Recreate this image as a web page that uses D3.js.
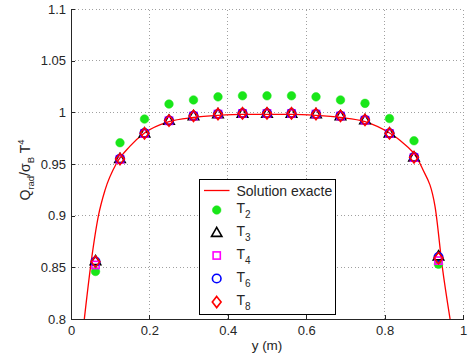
<!DOCTYPE html>
<html>
<head>
<meta charset="utf-8">
<script src="https://cdn.jsdelivr.net/npm/d3@7"></script>
<style>
  html, body { margin: 0; padding: 0; background: #fff; }
  svg { display: block; }
  text { font-family: "Liberation Sans", Arial, sans-serif; fill: #262626; }
</style>
</head>
<body>
<svg id="chart" width="469" height="358"></svg>
<script>
// ---- data ----
const xTicks = [0, 0.2, 0.4, 0.6, 0.8, 1];
const yTicks = [0.8, 0.85, 0.9, 0.95, 1, 1.05, 1.1];
const xTickLabels = ["0", "0.2", "0.4", "0.6", "0.8", "1"];
const yTickLabels = ["0.8", "0.85", "0.9", "0.95", "1", "1.05", "1.1"];

const curveX = [0.034, 0.05, 0.07, 0.087, 0.1165, 0.15, 0.1875, 0.25, 0.3125, 0.375, 0.4375, 0.5,
                0.5625, 0.625, 0.6875, 0.75, 0.8125, 0.839, 0.8946, 0.9286, 0.947, 0.967];
const curveY = [0.80, 0.851, 0.90, 0.925, 0.951, 0.967, 0.980, 0.991, 0.995, 0.997, 0.998, 0.998,
                0.998, 0.997, 0.995, 0.991, 0.980, 0.973, 0.947, 0.909, 0.851, 0.80];

const pointX = [0.0625, 0.125, 0.1875, 0.25, 0.3125, 0.375, 0.4375, 0.5,
                0.5625, 0.625, 0.6875, 0.75, 0.8125, 0.875, 0.9375];
const T2 = [0.846, 0.9706, 0.9935, 1.008, 1.012, 1.015, 1.016, 1.016, 1.016, 1.015, 1.012, 1.0087, 0.994, 0.9725, 0.853];
const T3 = [0.8564, 0.9552, 0.9800, 0.9922, 0.9967, 0.9986, 0.9991, 0.9991, 0.9991, 0.9986, 0.9967, 0.9927, 0.9800, 0.9568, 0.861];
const T4 = [0.8523, 0.9545, 0.9795, 0.9918, 0.9964, 0.9983, 0.9989, 0.9989, 0.9989, 0.9983, 0.9964, 0.9924, 0.9795, 0.9562, 0.8565];
const T6 = [0.8555, 0.9550, 0.9798, 0.9920, 0.9965, 0.9984, 0.9990, 0.9990, 0.9990, 0.9984, 0.9965, 0.9926, 0.9797, 0.9566, 0.860];
const T8 = [0.8555, 0.9548, 0.9797, 0.9920, 0.9965, 0.9984, 0.9990, 0.9990, 0.9990, 0.9984, 0.9965, 0.9926, 0.9797, 0.9565, 0.859];

const seriesNames = ["T2", "T3", "T4", "T6", "T8"];
const seriesSub = ["2", "3", "4", "6", "8"];

// ---- layout ----
const svg = d3.select("#chart");
const x = d3.scaleLinear().domain([0, 1]).range([71, 463]);
const y = d3.scaleLinear().domain([0.8, 1.1]).range([319, 9]);
const axisColor = "#262626";
const mw = 1.6;

// grid
const grid = svg.append("g");
grid.selectAll("line.gx").data(xTicks.filter(d => d > 0)).enter().append("line")
  .attr("x1", d => x(d)).attr("x2", d => x(d)).attr("y1", y(0.8)).attr("y2", y(1.1))
  .attr("stroke", "#a0a0a0").attr("stroke-width", 1).attr("stroke-dasharray", "1,2.5")
  .attr("shape-rendering", "crispEdges");
grid.selectAll("line.gy").data(yTicks.filter(d => d > 0.8)).enter().append("line")
  .attr("x1", x(0)).attr("x2", x(1)).attr("y1", d => y(d)).attr("y2", d => y(d))
  .attr("stroke", "#a0a0a0").attr("stroke-width", 1).attr("stroke-dasharray", "1,2.5")
  .attr("shape-rendering", "crispEdges");

// exact solution
svg.append("clipPath").attr("id", "clip").append("rect")
  .attr("x", x(0)).attr("y", y(1.1)).attr("width", x(1) - x(0)).attr("height", y(0.8) - y(1.1));
const curve = curveX.map((v, i) => [v, curveY[i]]);
svg.append("path").datum(curve)
  .attr("clip-path", "url(#clip)")
  .attr("d", d3.line().x(d => x(d[0])).y(d => y(d[1])).curve(d3.curveMonotoneX))
  .attr("fill", "none").attr("stroke", "#ff0000").attr("stroke-width", 1.3);

// markers
function drawMarker(g, type, cx, cy) {
  if (type === "T2") {
    g.append("circle").attr("cx", cx).attr("cy", cy).attr("r", 4.3).attr("fill", "#19e619").attr("stroke", "#19e619").attr("stroke-width", 0.5);
  } else if (type === "T3") {
    const s = 5.2;
    g.append("path").attr("d", `M${cx},${cy - s}L${cx + s},${cy + s * 0.75}L${cx - s},${cy + s * 0.75}Z`)
      .attr("fill", "none").attr("stroke", "#000").attr("stroke-width", mw);
  } else if (type === "T4") {
    const s = 3.6;
    g.append("rect").attr("x", cx - s).attr("y", cy - s).attr("width", 2 * s).attr("height", 2 * s)
      .attr("fill", "none").attr("stroke", "#ff00ff").attr("stroke-width", mw);
  } else if (type === "T6") {
    g.append("circle").attr("cx", cx).attr("cy", cy).attr("r", 4.3).attr("fill", "none").attr("stroke", "#0000ff").attr("stroke-width", mw);
  } else if (type === "T8") {
    const w = 4.4, h = 5.6;
    g.append("path").attr("d", `M${cx},${cy - h}L${cx + w},${cy}L${cx},${cy + h}L${cx - w},${cy}Z`)
      .attr("fill", "none").attr("stroke", "#ff0000").attr("stroke-width", mw);
  }
}
const allSeries = [T2, T3, T4, T6, T8];
allSeries.forEach((vals, si) => {
  const g = svg.append("g");
  vals.forEach((v, i) => drawMarker(g, seriesNames[si], x(pointX[i]), y(v)));
});

// axes
const xAxis = d3.axisBottom(x).tickValues(xTicks).tickFormat((d, i) => xTickLabels[i])
  .tickSizeInner(-4).tickSizeOuter(0).tickPadding(7);
const yAxis = d3.axisLeft(y).tickValues(yTicks).tickFormat((d, i) => yTickLabels[i])
  .tickSizeInner(-4).tickSizeOuter(0).tickPadding(5);
const gx = svg.append("g").attr("transform", `translate(0,${y(0.8)})`).call(xAxis);
const gy = svg.append("g").attr("transform", `translate(${x(0)},0)`).call(yAxis);
[gx, gy].forEach(g => {
  g.selectAll("path.domain").attr("stroke", axisColor).attr("shape-rendering", "crispEdges");
  g.selectAll(".tick line").attr("stroke", axisColor).attr("shape-rendering", "crispEdges");
  g.selectAll("text").attr("font-size", 13).attr("fill", axisColor)
    .style("font-family", '"Liberation Sans", Arial, sans-serif');
});

// axis labels
svg.append("text").attr("x", 267).attr("y", 350).attr("text-anchor", "middle")
  .attr("font-size", 13.5).text("y (m)");
const yl = svg.append("text").attr("transform", "translate(30,170) rotate(-90)")
  .attr("text-anchor", "middle").attr("font-size", 14);
yl.append("tspan").text("Q");
yl.append("tspan").attr("font-size", 9.5).attr("dy", 4).text("rad");
yl.append("tspan").attr("dy", -4).text("/σ");
yl.append("tspan").attr("font-size", 9.5).attr("dy", 4).text("B");
yl.append("tspan").attr("dy", -4).text(" T");
yl.append("tspan").attr("font-size", 9.5).attr("dy", -6).text("4");

// legend
const lg = svg.append("g");
lg.append("rect").attr("x", 199.5).attr("y", 179.5).attr("width", 136).attr("height", 135)
  .attr("fill", "#fff").attr("stroke", "#000").attr("stroke-width", 1);
const rowY = [190.5, 210, 232.5, 255.5, 278.5, 302];
lg.append("line").attr("x1", 204).attr("x2", 229.5).attr("y1", rowY[0]).attr("y2", rowY[0])
  .attr("stroke", "#ff0000").attr("stroke-width", 1.3);
lg.append("text").attr("x", 236.5).attr("y", rowY[0] + 5).attr("font-size", 14).attr("fill", "#000").text("Solution exacte");
seriesNames.forEach((name, i) => {
  const ry = rowY[i + 1];
  drawMarker(lg, name, 216.7, ry);
  const t = lg.append("text").attr("x", 236.5).attr("y", ry + 3).attr("font-size", 14).attr("fill", "#000");
  t.append("tspan").text("T");
  t.append("tspan").attr("font-size", 10).attr("dy", 5).text(seriesSub[i]);
});
</script>
</body>
</html>
